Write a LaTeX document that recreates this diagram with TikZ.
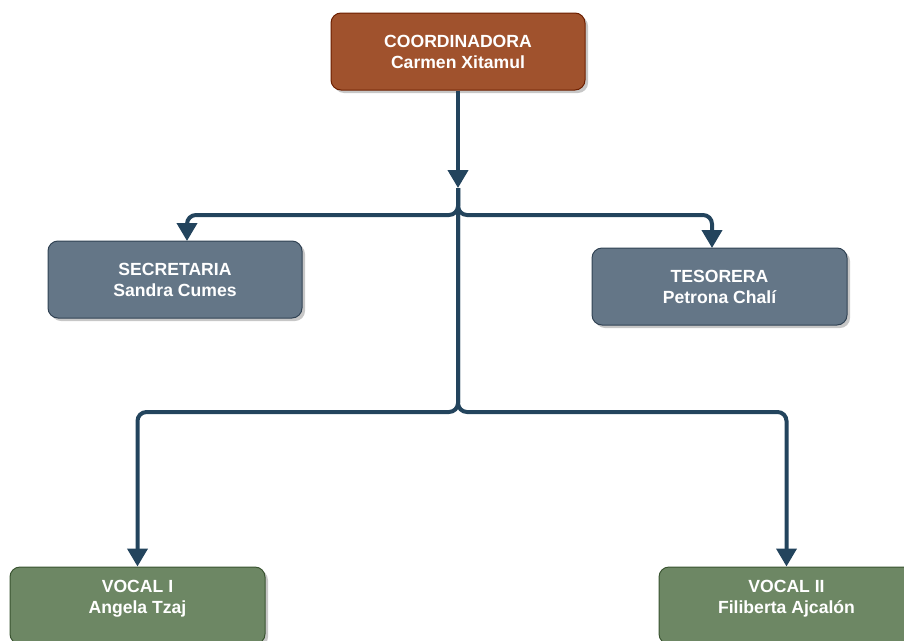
\documentclass[tikz,border=0pt]{standalone}
\usepackage{fontspec}
\setmainfont{Liberation Sans}
\usetikzlibrary{arrows.meta,shadows}
\definecolor{edgec}{HTML}{23445D}
\definecolor{coordfill}{HTML}{A0522D}
\definecolor{coorddraw}{HTML}{6D1F00}
\definecolor{slatefill}{HTML}{647687}
\definecolor{slatedraw}{HTML}{314354}
\definecolor{greenfill}{HTML}{6D8764}
\definecolor{greendraw}{HTML}{3A5431}
\tikzset{
  box/.style={rectangle, rounded corners=10pt, line width=1pt, minimum width=254pt, minimum height=77pt,
    inner sep=0pt, align=center, text=white, font=\fontsize{17.6}{21}\selectfont\bfseries,
    drop shadow={shadow xshift=3pt, shadow yshift=-3pt, opacity=0.22, fill=black}},
  coordbox/.style={box, fill=coordfill, draw=coorddraw},
  slatebox/.style={box, fill=slatefill, draw=slatedraw},
  greenbox/.style={box, fill=greenfill, draw=greendraw},
  lbl/.style={align=center, text=white, font=\fontsize{17.6}{21}\selectfont\bfseries, inner sep=0pt},
  conn/.style={draw=edgec, line width=4pt, rounded corners=9pt},
  arr/.style={conn, -{Triangle[width=20pt,length=18pt]}}
}
\begin{document}
\begin{tikzpicture}[x=1pt,y=-1pt]
\useasboundingbox (0,0) rectangle (904,640);
\clip (0,0) rectangle (904,640);
\node[coordbox] (coord) at (458,51.5) {COORDINADORA\\Carmen Xitamul};
\node[slatebox] (sec) at (175,279.5) {SECRETARIA\\Sandra Cumes};
\node[slatebox, minimum width=255pt] (tes) at (719.5,286.5) {TESORERA\\Petrona Chalí};
\node[greenbox, minimum width=255pt, label={[lbl, yshift=6.5pt]center:{VOCAL I\\Angela Tzaj}}] (v1) at (137.5,605.5) {};
\node[greenbox, minimum width=255pt, label={[lbl, yshift=6.5pt]center:{VOCAL II\\Filiberta Ajcalón}}] (v2) at (786.5,605.5) {};

\coordinate (j1) at (458,188);
\coordinate (b1) at (458,215);
\coordinate (b2) at (458,412);
\coordinate (secin) at (187,241);
\coordinate (tesin) at (712,248);

\draw[arr] (coord.south) -- (j1);
\draw[arr] (j1) -- (b1) -| (secin);
\draw[arr] (j1) -- (b1) -| (tesin);
\draw[arr] (j1) -- (b2) -| (v1.north);
\draw[arr] (j1) -- (b2) -| (v2.north);
\end{tikzpicture}
\end{document}
